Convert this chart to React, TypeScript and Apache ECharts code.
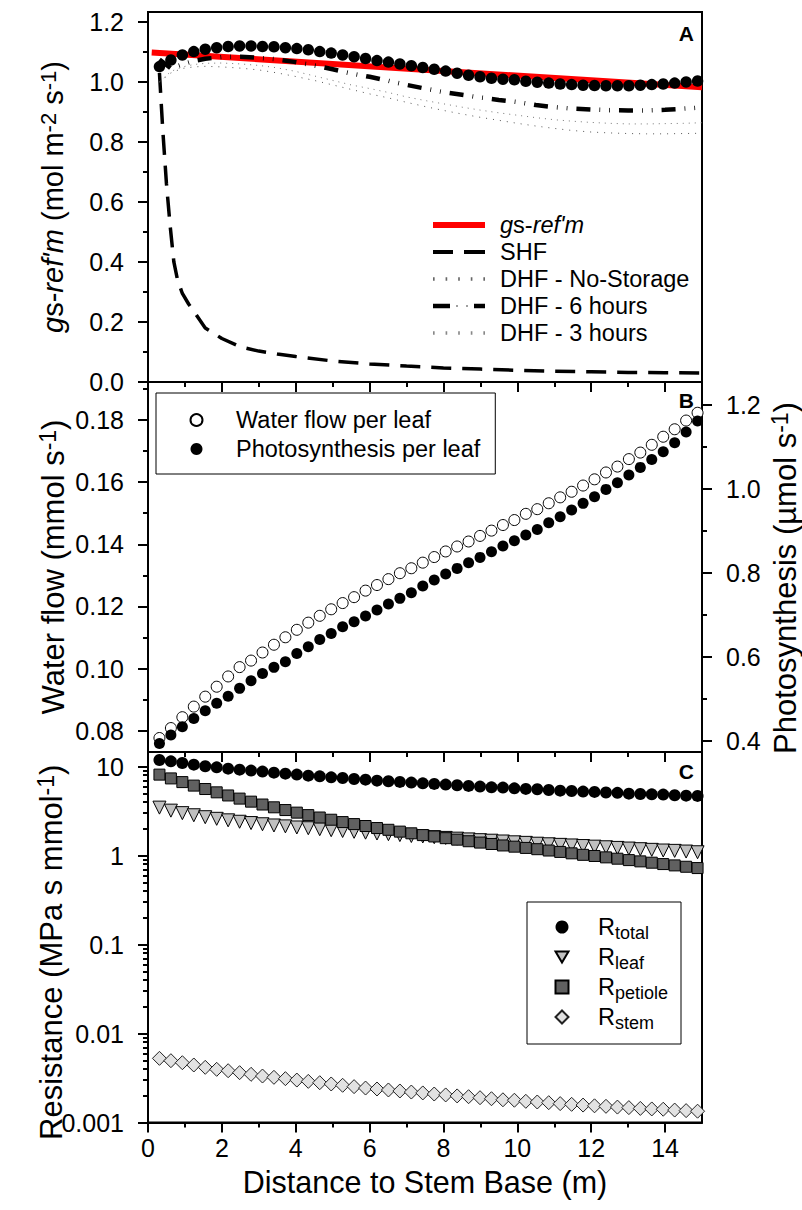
import React, { useEffect, useRef } from "react";
import * as echarts from "echarts";

const FONT = '"Liberation Sans", Arial, Helvetica, sans-serif';
const BLACK = "#000";

// ---------- shared x positions (distance to stem base, m) ----------
const xPts = [0.31, 0.62, 0.93, 1.24, 1.55, 1.86, 2.17, 2.48, 2.79, 3.1, 3.41, 3.72, 4.03, 4.34, 4.65, 4.96, 5.27, 5.58, 5.89, 6.2, 6.51, 6.82, 7.13, 7.44, 7.75, 8.06, 8.37, 8.68, 8.99, 9.3, 9.61, 9.92, 10.23, 10.54, 10.85, 11.16, 11.47, 11.78, 12.09, 12.4, 12.71, 13.02, 13.33, 13.64, 13.95, 14.26, 14.57, 14.88];
const xLine = [0.31, 0.62, 0.93, 1.24, 1.55, 2, 2.5, 3, 3.5, 4, 4.5, 5, 5.5, 6, 6.5, 7, 7.5, 8, 8.5, 9, 9.5, 10, 10.5, 11, 11.5, 12, 12.5, 13, 13.5, 14, 14.5, 15];

// ---------- panel A ----------
const gsX = [0.1, 15];
const gsRef = [1.098, 0.982];
const shfX = [0.31, 0.4, 0.5, 0.6, 0.7, 0.8, 0.93, 1.1, 1.3, 1.55, 2, 2.5, 3, 3.5, 4, 5, 6, 7, 8, 9, 10, 11, 12, 13, 14, 15];
const shf = [1.03, 0.84, 0.66, 0.52, 0.4, 0.34, 0.295, 0.26, 0.225, 0.18, 0.145, 0.117, 0.103, 0.093, 0.085, 0.07, 0.06, 0.053, 0.047, 0.043, 0.039, 0.036, 0.034, 0.032, 0.031, 0.03];
const dhfNoStorage = [1.0, 1.03, 1.045, 1.05, 1.052, 1.05, 1.046, 1.04, 1.03, 1.018, 1.005, 0.99, 0.975, 0.96, 0.947, 0.932, 0.918, 0.905, 0.893, 0.882, 0.872, 0.862, 0.853, 0.845, 0.838, 0.833, 0.83, 0.828, 0.827, 0.827, 0.828, 0.829];
const dhf6h = [1.075, 1.045, 1.058, 1.07, 1.077, 1.083, 1.084, 1.08, 1.075, 1.066, 1.055, 1.042, 1.028, 1.017, 1.004, 0.99, 0.978, 0.966, 0.957, 0.948, 0.94, 0.933, 0.923, 0.916, 0.911, 0.908, 0.906, 0.905, 0.905, 0.907, 0.911, 0.915];
const dhf3h = [1.0, 1.035, 1.05, 1.058, 1.062, 1.063, 1.06, 1.055, 1.047, 1.035, 1.02, 1.005, 0.99, 0.978, 0.965, 0.95, 0.938, 0.927, 0.916, 0.906, 0.897, 0.889, 0.881, 0.874, 0.869, 0.865, 0.862, 0.86, 0.86, 0.861, 0.862, 0.864];
const dhfDots = [1.051, 1.073, 1.09, 1.101, 1.109, 1.114, 1.118, 1.12, 1.12, 1.118, 1.117, 1.114, 1.111, 1.107, 1.101, 1.096, 1.09, 1.084, 1.078, 1.071, 1.066, 1.06, 1.054, 1.048, 1.042, 1.036, 1.029, 1.022, 1.017, 1.012, 1.009, 1.007, 1.002, 0.999, 0.996, 0.993, 0.991, 0.989, 0.988, 0.987, 0.987, 0.987, 0.989, 0.991, 0.993, 0.996, 1.0, 1.003];

// ---------- panel B ----------
const waterFlow = [0.0777, 0.0809, 0.0844, 0.0878, 0.091, 0.0942, 0.0975, 0.1005, 0.1026, 0.1052, 0.1077, 0.1101, 0.1125, 0.1148, 0.117, 0.1191, 0.1211, 0.123, 0.1251, 0.1269, 0.1288, 0.1307, 0.1323, 0.1341, 0.1359, 0.1377, 0.1393, 0.1409, 0.1427, 0.1444, 0.1462, 0.1478, 0.1498, 0.1513, 0.1532, 0.1551, 0.1569, 0.1589, 0.1609, 0.1631, 0.165, 0.1674, 0.1695, 0.172, 0.1746, 0.177, 0.1798, 0.1823];
const photosynthesis = [0.3945, 0.4143, 0.434, 0.454, 0.472, 0.49, 0.507, 0.5255, 0.5436, 0.561, 0.5755, 0.589, 0.6088, 0.6245, 0.6421, 0.6564, 0.6721, 0.684, 0.6976, 0.7119, 0.7262, 0.7398, 0.7531, 0.769, 0.7833, 0.7976, 0.8112, 0.8245, 0.8374, 0.8507, 0.8643, 0.8769, 0.8905, 0.904, 0.9198, 0.934, 0.95, 0.966, 0.9817, 0.9993, 1.015, 1.0333, 1.0517, 1.0707, 1.0888, 1.1102, 1.136, 1.162];

// ---------- panel C ----------
const rTotal = [11.89, 11.47, 11.0, 10.53, 10.08, 9.82, 9.49, 9.25, 9.02, 8.79, 8.56, 8.34, 8.13, 7.92, 7.78, 7.58, 7.46, 7.27, 7.14, 6.96, 6.84, 6.73, 6.61, 6.49, 6.39, 6.28, 6.17, 6.07, 5.96, 5.85, 5.81, 5.7, 5.62, 5.56, 5.47, 5.37, 5.33, 5.24, 5.2, 5.11, 5.07, 4.97, 4.93, 4.88, 4.85, 4.76, 4.72, 4.69];
const rLeaf = [3.46, 3.2, 3.0, 2.84, 2.7, 2.59, 2.49, 2.4, 2.32, 2.25, 2.18, 2.13, 2.07, 2.03, 1.98, 1.93, 1.89, 1.85, 1.81, 1.77, 1.74, 1.7, 1.66, 1.64, 1.61, 1.58, 1.55, 1.52, 1.49, 1.47, 1.44, 1.41, 1.39, 1.36, 1.34, 1.32, 1.3, 1.28, 1.26, 1.24, 1.22, 1.2, 1.18, 1.16, 1.14, 1.13, 1.11, 1.09];
const rPetiole = [8.13, 7.37, 6.7, 6.12, 5.6, 5.14, 4.74, 4.37, 4.04, 3.75, 3.49, 3.25, 3.04, 2.85, 2.68, 2.53, 2.38, 2.26, 2.15, 2.04, 1.95, 1.86, 1.78, 1.7, 1.64, 1.57, 1.51, 1.45, 1.4, 1.35, 1.3, 1.26, 1.22, 1.18, 1.14, 1.1, 1.06, 1.02, 0.99, 0.955, 0.923, 0.89, 0.861, 0.832, 0.803, 0.776, 0.749, 0.724];
const rStem = [0.00526, 0.00495, 0.0047, 0.00443, 0.00417, 0.00396, 0.00382, 0.00363, 0.00348, 0.00333, 0.00322, 0.00311, 0.003, 0.0029, 0.0028, 0.00271, 0.00262, 0.00253, 0.00244, 0.00238, 0.00232, 0.00226, 0.0022, 0.00215, 0.00209, 0.00204, 0.00199, 0.00195, 0.0019, 0.00185, 0.0018, 0.00178, 0.00173, 0.0017, 0.00167, 0.00163, 0.0016, 0.00157, 0.00154, 0.00152, 0.00149, 0.00147, 0.00144, 0.00142, 0.00141, 0.00138, 0.00136, 0.00134];

// ---------- ticks / extents ----------
const xMajor = [0, 2, 4, 6, 8, 10, 12, 14];
const xMinor = [1, 3, 5, 7, 9, 11, 13];
const yAMajor = [0, 0.2, 0.4, 0.6, 0.8, 1.0, 1.2];
const yAMinor = [0.1, 0.3, 0.5, 0.7, 0.9, 1.1];
const yBLMajor = [0.08, 0.1, 0.12, 0.14, 0.16, 0.18];
const yBLMinor = [0.09, 0.11, 0.13, 0.15, 0.17, 0.19];
const yBRMajor = [0.4, 0.6, 0.8, 1.0, 1.2];
const yBRMinor = [0.5, 0.7, 0.9, 1.1];
const yCMajor = [0.001, 0.01, 0.1, 1, 10];
const yCMinor = [0.002, 0.003, 0.004, 0.005, 0.006, 0.007, 0.008, 0.009, 0.02, 0.03, 0.04, 0.05, 0.06, 0.07, 0.08, 0.09, 0.2, 0.3, 0.4, 0.5, 0.6, 0.7, 0.8, 0.9, 2, 3, 4, 5, 6, 7, 8, 9];
const xRange = [0, 15];
const yARange = [0, 1.233];
const yBLRange = [0.0732, 0.1922];
const yBRRange = [0.374, 1.255];
const yCRange = [0.001, 14.6];

const pairs = (xs: number[], ys: number[]) => xs.map((x, i) => [x, ys[i]]);

const makeRich = (fs: number) => ({
  n: { fontSize: fs, lineHeight: fs + 3, fontFamily: FONT, color: BLACK },
  i: { fontSize: fs, lineHeight: fs + 3, fontFamily: FONT, fontStyle: "italic", color: BLACK },
  sup: { fontSize: Math.round(fs * 0.75), lineHeight: fs - 9, verticalAlign: "top", fontFamily: FONT, color: BLACK },
});

// legend sample icons (line patterns drawn as filled shapes)
const ICON_RED = "path://M0 0H52V6H0Z";
const ICON_SHF = "path://M0 0H20V4H0Z M31 0H52V4H31Z";
const ICON_DOTS = "path://M1 0H2.5V3H1Z M12.5 0H14V3H12.5Z M24 0H25.5V3H24Z M35.5 0H37V3H35.5Z M47 0H48.5V3H47Z";
const ICON_6H = "path://M0 0H17V4.5H0Z M23.5 1.5H24.5V3H23.5Z M33.5 1.5H34.5V3H33.5Z M41 0H52V4.5H41Z";
const ICON_TRI_DOWN = "path://M0 0L14 0L7 12Z";

function xAxisDef(gridIndex: number, position: string, kind: "line" | "major" | "minor", inside: boolean, labels = false): any {
  const isMajor = kind === "major";
  const vals = isMajor ? xMajor : xMinor;
  return {
    type: "value",
    gridIndex,
    position,
    min: xRange[0],
    max: xRange[1],
    splitLine: { show: false },
    axisLine: { show: kind !== "minor", onZero: false, lineStyle: { color: BLACK, width: 2 } },
    axisTick: kind === "line" ? { show: false } : { show: true, inside, length: isMajor ? 10 : 5, customValues: vals, lineStyle: { color: BLACK, width: 2 } },
    axisLabel: labels
      ? { show: true, customValues: xMajor, margin: 13, fontSize: 25, color: BLACK, fontFamily: FONT, formatter: (v: number) => String(v) }
      : { show: false },
  };
}

function yAxisDef(gridIndex: number, position: string, range: number[], vals: number[], major: boolean, digits: number | null, type = "value", extra: any = {}): any {
  return {
    type,
    gridIndex,
    position,
    min: range[0],
    max: range[1],
    splitLine: { show: false },
    axisLine: { show: major, onZero: false, lineStyle: { color: BLACK, width: 2 } },
    axisTick: { show: true, inside: false, length: major ? 10 : 5, customValues: vals, lineStyle: { color: BLACK, width: 2 } },
    axisLabel: major
      ? { show: true, customValues: vals, margin: 24, fontSize: 25, color: BLACK, fontFamily: FONT, formatter: (v: number) => (digits == null ? String(v) : Number(v).toFixed(digits)) }
      : { show: false },
    nameMoveOverlap: false,
    ...extra,
  };
}

const nameOpts = (name: string, gap: number, fs: number, padding: number[] = [0, 0, 0, 0]) => ({
  name,
  nameLocation: "middle",
  nameGap: gap,
  nameRotate: 90,
  nameTextStyle: { fontSize: fs, fontFamily: FONT, color: BLACK, padding, rich: makeRich(fs) },
});

export default function App() {
  const ref = useRef<HTMLDivElement>(null);
  useEffect(() => {
    const chart = echarts.init(ref.current as HTMLDivElement, null, { renderer: "svg" });
    const gridBase = { left: 148, width: 554, show: true, borderColor: BLACK, borderWidth: 2, backgroundColor: "transparent", containLabel: false, outerBoundsMode: "none" };
    const letter = (t: string, y: number) => ({
      type: "text", x: 694, y,
      style: { text: t, fontSize: 21, fontWeight: "bold", fontFamily: FONT, fill: BLACK, align: "right", textAlign: "right", verticalAlign: "middle", textVerticalAlign: "middle" },
    });
    const option: any = {
      animation: false,
      backgroundColor: "#fff",
      textStyle: { fontFamily: FONT },
      grid: [
        { ...gridBase, top: 12, height: 370 },
        { ...gridBase, top: 382, height: 370 },
        { ...gridBase, top: 752, height: 370.5 },
      ],
      xAxis: [
        xAxisDef(0, "bottom", "line", false),
        xAxisDef(1, "top", "major", true),
        xAxisDef(1, "top", "minor", true),
        xAxisDef(2, "top", "major", true),
        xAxisDef(2, "top", "minor", true),
        { ...xAxisDef(2, "bottom", "major", false, true), name: "Distance to Stem Base (m)", nameLocation: "middle", nameGap: 44, nameTextStyle: { fontSize: 30.5, fontFamily: FONT, color: BLACK } },
        xAxisDef(2, "bottom", "minor", false),
      ],
      yAxis: [
        yAxisDef(0, "left", yARange, yAMajor, true, 1, "value", nameOpts("{i|g}{n|s-}{i|ref'm}{n| (mol m}{sup|-2}{n| s}{sup|-1}{n|)}", 79, 29)),
        yAxisDef(0, "left", yARange, yAMinor, false, null),
        yAxisDef(1, "left", yBLRange, yBLMajor, true, 2, "value", nameOpts("{n|Water flow (mmol s}{sup|-1}{n|)}", 78, 31)),
        yAxisDef(1, "left", yBLRange, yBLMinor, false, null),
        yAxisDef(1, "right", yBRRange, yBRMajor, true, 1, "value", nameOpts("{n|Photosynthesis (\u00b5mol s}{sup|-1}{n|)}", 66, 31, [0, 22, 0, 0])),
        yAxisDef(1, "right", yBRRange, yBRMinor, false, null),
        yAxisDef(2, "left", yCRange, yCMajor, true, null, "log", { logBase: 10, ...nameOpts("{n|Resistance (MPa s mmol}{sup|-1}{n|)}", 80, 31, [0, 30, 0, 0]) }),
        yAxisDef(2, "left", yCRange, yCMinor, false, null, "log", { logBase: 10 }),
      ],
      legend: [
        {
          orient: "vertical", left: 433, top: 213, padding: 0, itemGap: 3, itemWidth: 52, itemHeight: 14, selectedMode: false,
          data: [
            { name: "gs-ref'm", icon: ICON_RED },
            { name: "SHF", icon: ICON_SHF },
            { name: "DHF - No-Storage", icon: ICON_DOTS },
            { name: "DHF - 6 hours", icon: ICON_6H },
            { name: "DHF - 3 hours", icon: ICON_DOTS },
          ],
          formatter: (name: string) => (name === "gs-ref'm" ? "{i|g}{n|s-}{i|ref'm}" : name),
          textStyle: {
            fontSize: 23.5, fontFamily: FONT, color: BLACK, lineHeight: 24, padding: [0, 0, 0, 10],
            rich: { i: { fontSize: 23.5, fontStyle: "italic", fontFamily: FONT, color: BLACK }, n: { fontSize: 23.5, fontFamily: FONT, color: BLACK } },
          },
        },
        {
          orient: "vertical", left: 156, top: 393, padding: [15, 15, 13, 33.5], itemGap: 5, itemWidth: 12, itemHeight: 12, selectedMode: false,
          borderColor: BLACK, borderWidth: 1,
          data: [
            { name: "Water flow per leaf", icon: "circle" },
            { name: "Photosynthesis per leaf", icon: "circle" },
          ],
          textStyle: { fontSize: 23.5, fontFamily: FONT, color: BLACK, lineHeight: 24, padding: [0, 0, 0, 28.5] },
        },
        {
          orient: "vertical", left: 527, top: 902, padding: [13, 13, 12, 27.5], itemGap: 3, itemWidth: 13, itemHeight: 13, selectedMode: false,
          borderColor: BLACK, borderWidth: 1,
          data: [
            { name: "Rtotal", icon: "circle" },
            { name: "Rleaf", icon: ICON_TRI_DOWN },
            { name: "Rpetiole", icon: "rect" },
            { name: "Rstem", icon: "diamond" },
          ],
          formatter: (name: string) => "{R|R}{s|" + name.slice(1) + "}",
          textStyle: {
            fontSize: 23.5, fontFamily: FONT, color: BLACK, padding: [0, 0, 0, 24.5],
            rich: {
              R: { fontSize: 23.5, lineHeight: 30, fontFamily: FONT, color: BLACK },
              s: { fontSize: 18, lineHeight: 18, verticalAlign: "bottom", fontFamily: FONT, color: BLACK },
            },
          },
        },
      ],
      graphic: [letter("A", 33), letter("B", 400), letter("C", 771)],
      series: [
        // Panel A
        { name: "gs-ref'm", type: "line", xAxisIndex: 0, yAxisIndex: 0, data: pairs(gsX, gsRef), symbol: "none", lineStyle: { color: "#ff0000", width: 6 }, itemStyle: { color: "#ff0000" }, z: 1 },
        { name: "SHF", type: "line", xAxisIndex: 0, yAxisIndex: 0, data: pairs(shfX, shf), symbol: "none", lineStyle: { color: BLACK, width: 3.5, type: [20, 11] }, itemStyle: { color: BLACK }, z: 2 },
        { name: "DHF - No-Storage", type: "line", xAxisIndex: 0, yAxisIndex: 0, data: pairs(xLine, dhfNoStorage), symbol: "none", lineStyle: { color: "#555", width: 1, type: [1, 6] }, itemStyle: { color: "#666" }, z: 2 },
        { name: "DHF - 6 hours", type: "line", xAxisIndex: 0, yAxisIndex: 0, data: pairs(xLine, dhf6h), symbol: "none", lineStyle: { color: BLACK, width: 4.5, type: [14, 9, 0.8, 9, 0.8, 9] }, itemStyle: { color: BLACK }, z: 2 },
        { name: "DHF - 3 hours", type: "line", xAxisIndex: 0, yAxisIndex: 0, data: pairs(xLine, dhf3h), symbol: "none", lineStyle: { color: "#777", width: 1, type: [1, 5] }, itemStyle: { color: "#888" }, z: 2 },
        { name: "DHF dots", type: "scatter", xAxisIndex: 0, yAxisIndex: 0, data: pairs(xPts, dhfDots), symbol: "circle", symbolSize: 11.5, itemStyle: { color: BLACK, opacity: 1 }, z: 3 },
        // Panel B
        { name: "Water flow per leaf", type: "scatter", xAxisIndex: 1, yAxisIndex: 2, data: pairs(xPts, waterFlow), symbol: "circle", symbolSize: 11, itemStyle: { color: "#fff", borderColor: BLACK, borderWidth: 1, opacity: 1 }, z: 2 },
        { name: "Photosynthesis per leaf", type: "scatter", xAxisIndex: 1, yAxisIndex: 4, data: pairs(xPts, photosynthesis), symbol: "circle", symbolSize: 11, itemStyle: { color: BLACK, opacity: 1 }, z: 3 },
        // Panel C
        { name: "Rleaf", type: "scatter", xAxisIndex: 5, yAxisIndex: 6, data: pairs(xPts, rLeaf), symbol: "triangle", symbolRotate: 180, symbolSize: 13, itemStyle: { color: "#c0c0c0", borderColor: BLACK, borderWidth: 1, opacity: 1 }, z: 2 },
        { name: "Rpetiole", type: "scatter", xAxisIndex: 5, yAxisIndex: 6, data: pairs(xPts, rPetiole), symbol: "rect", symbolSize: 11, itemStyle: { color: "#606060", borderColor: BLACK, borderWidth: 1, opacity: 1 }, z: 3 },
        { name: "Rtotal", type: "scatter", xAxisIndex: 5, yAxisIndex: 6, data: pairs(xPts, rTotal), symbol: "circle", symbolSize: 12, itemStyle: { color: BLACK, opacity: 1 }, z: 4 },
        { name: "Rstem", type: "scatter", xAxisIndex: 5, yAxisIndex: 6, data: pairs(xPts, rStem), symbol: "diamond", symbolSize: 14, itemStyle: { color: "#e2e2e2", borderColor: "#222", borderWidth: 1, opacity: 1 }, z: 2 },
      ],
    };
    chart.setOption(option);
    return () => chart.dispose();
  }, []);
  return <div ref={ref} style={{ position: "absolute", left: 0, top: 0, width: 802, height: 1210, background: "#fff" }} />;
}
